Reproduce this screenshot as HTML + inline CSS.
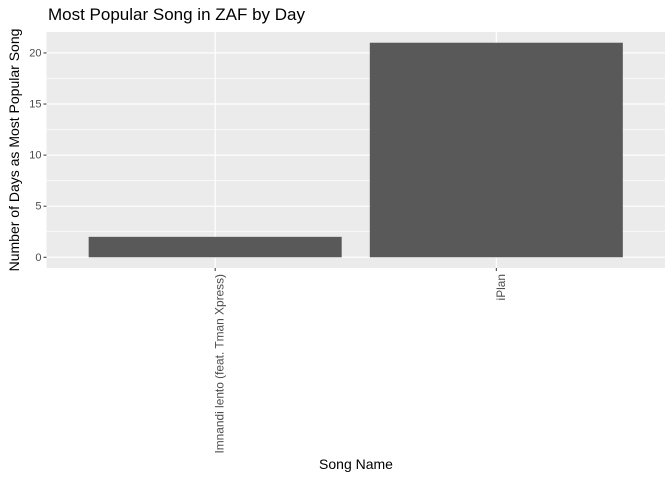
<!DOCTYPE html>
<html><head><meta charset="utf-8"><style>
body{margin:0;background:#fff;font-family:"Liberation Sans",sans-serif;}
</style></head><body>
<svg width="672" height="480" xmlns="http://www.w3.org/2000/svg">
<text x="48" y="20" font-size="17" fill="#000">Most Popular Song in ZAF by Day</text>
<rect x="46.5" y="32" width="618.5" height="236" fill="#ebebeb"/>
<g id="grid"></g>
<g id="bars"></g>
<g id="axes"></g>
<text x="356" y="469" font-size="14" text-anchor="middle">Song Name</text>
<text transform="translate(19,150) rotate(-90)" font-size="14" text-anchor="middle">Number of Days as Most Popular Song</text>
</svg>
<script>
const categories=["Imnandi lento (feat. Tman Xpress)","iPlan"];
const values=[2,21];
const yTicks=[0,5,10,15,20];
const NS="http://www.w3.org/2000/svg";
const px0=46.5,px1=665,py0=32,py1=268;
const ymin=-1.05,ymax=22.05;
function y(v){return py1-(v-ymin)/(ymax-ymin)*(py1-py0);}
const band=(px1-px0)/(categories.length-1+1.2);
function x(i){return px0+band*(i+0.6);}
function mk(t,a,p){const e=document.createElementNS(NS,t);for(const k in a)e.setAttribute(k,a[k]);p.appendChild(e);return e;}
const grid=document.getElementById('grid'),bars=document.getElementById('bars'),axes=document.getElementById('axes');
for(let i=0;i<yTicks.length-1;i++){const m=(yTicks[i]+yTicks[i+1])/2;
 const l=mk('line',{x1:px0,x2:px1,y1:y(m),y2:y(m),stroke:'#fff','stroke-width':0.6},grid);
 
 }
yTicks.forEach(t=>{const l=mk('line',{x1:px0,x2:px1,y1:y(t),y2:y(t),stroke:'#fff','stroke-width':1.2},grid);
 
 
 const tk=mk('line',{x1:px0-3,x2:px0,y1:y(t),y2:y(t),stroke:'#333','stroke-width':1},axes);
 
 
 const tx=mk('text',{x:px0-5,y:y(t)+3.5,'font-size':11,fill:'#4d4d4d','text-anchor':'end'},axes);
 tx.textContent=t;
 
 });
categories.forEach((c,i)=>{const cx=x(i);
 const g=mk('line',{x1:cx,x2:cx,y1:py0,y2:py1,stroke:'#fff','stroke-width':1.2},grid);
 
 
 const w=band*0.9;
 const b=mk('rect',{x:cx-w/2,y:y(values[i]),width:w,height:y(0)-y(values[i]),fill:'#595959'},bars);
 
 
 const tk=mk('line',{x1:cx,x2:cx,y1:py1,y2:py1+3,stroke:'#333','stroke-width':1},axes);
 
 
 const tx=mk('text',{transform:`translate(${cx+8.5},${py1+6}) rotate(-90)`,'font-size':11.9,fill:'#4d4d4d','text-anchor':'end'},axes);
 tx.textContent=c;
 
 });
</script>
</body></html>
